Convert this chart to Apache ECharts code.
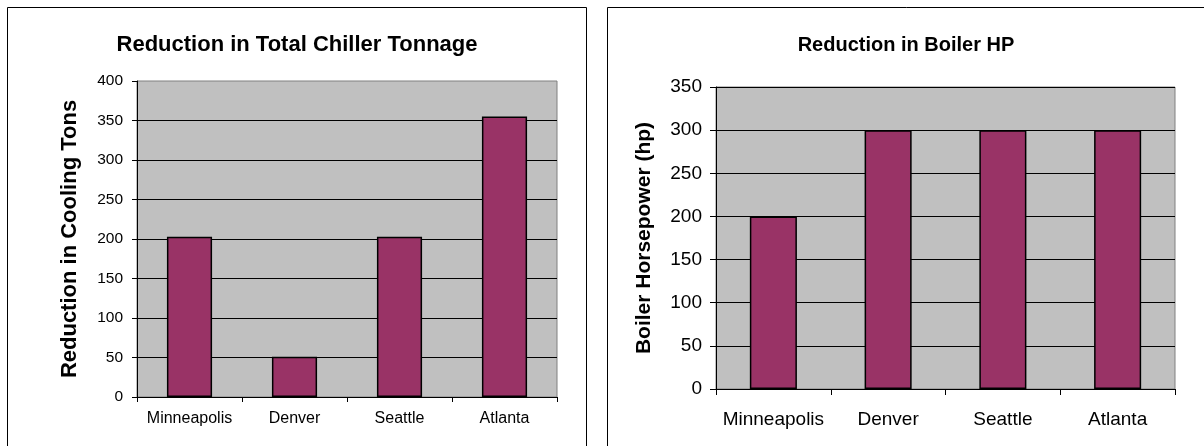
<!DOCTYPE html>
<html>
<head>
<meta charset="utf-8">
<script src="https://cdn.jsdelivr.net/npm/echarts@6/dist/echarts.min.js"></script>
<style>
  html, body { margin: 0; padding: 0; background: #ffffff; }
  #chart { width: 1204px; height: 446px; }
</style>
</head>
<body>
<div id="chart"></div>
<script>
// ---- Data ----
const categories = ['Minneapolis', 'Denver', 'Seattle', 'Atlanta'];
const chillerTons = [203, 51, 203, 355];
const boilerHP = [200, 300, 300, 300];

const chillerTitle = 'Reduction in Total Chiller Tonnage';
const chillerAxisName = 'Reduction in Cooling Tons';
const chillerAxis = { min: 0, max: 400, interval: 50 };

const boilerTitle = 'Reduction in Boiler HP';
const boilerAxisName = 'Boiler Horsepower (hp)';
const boilerAxis = { min: 0, max: 350, interval: 50 };

// ---- Chart ----
const FONT = '"Liberation Sans", Arial, sans-serif';
const chart = echarts.init(document.getElementById('chart'), null, { renderer: 'canvas' });

const option = {
  backgroundColor: '#ffffff',
  animation: false,
  title: [
    {
      text: chillerTitle, left: 297, top: 34, textAlign: 'center', padding: 0,
      textStyle: { fontFamily: FONT, fontSize: 22, fontWeight: 'bold', color: '#000' }
    },
    {
      text: boilerTitle, left: 906, top: 35, textAlign: 'center', padding: 0,
      textStyle: { fontFamily: FONT, fontSize: 20, fontWeight: 'bold', color: '#000' }
    }
  ],
  graphic: [
    { type: 'rect', z: -10, shape: { x: 7.5, y: 7.5, width: 579, height: 470 },
      style: { fill: '#ffffff', stroke: '#000000', lineWidth: 1 } },
    { type: 'rect', z: -10, shape: { x: 607.5, y: 7.5, width: 620, height: 470 },
      style: { fill: '#ffffff', stroke: '#000000', lineWidth: 1 } }
  ],
  grid: [
    { left: 137, top: 81, width: 420, height: 316, show: true,
      backgroundColor: '#C0C0C0', borderColor: '#808080', borderWidth: 1 },
    { left: 716, top: 87, width: 459, height: 302, show: true,
      backgroundColor: '#C0C0C0', borderColor: '#808080', borderWidth: 1 }
  ],
  xAxis: [
    {
      type: 'category', gridIndex: 0, data: categories,
      axisLine: { show: true, lineStyle: { color: '#000', width: 1 } },
      axisTick: { show: true, length: 5, lineStyle: { color: '#000' } },
      axisLabel: { interval: 0, hideOverlap: false, margin: 14, fontFamily: FONT, fontSize: 16, color: '#000' }
    },
    {
      type: 'category', gridIndex: 1, data: categories,
      axisLine: { show: true, lineStyle: { color: '#000', width: 1 } },
      axisTick: { show: true, length: 6, lineStyle: { color: '#000' } },
      axisLabel: { interval: 0, hideOverlap: false, margin: 21, fontFamily: FONT, fontSize: 19, color: '#000' }
    }
  ],
  yAxis: [
    {
      type: 'value', gridIndex: 0,
      min: chillerAxis.min, max: chillerAxis.max, interval: chillerAxis.interval,
      name: chillerAxisName, nameLocation: 'middle', nameGap: 56, nameRotate: 90,
      nameTextStyle: { fontFamily: FONT, fontSize: 22, fontWeight: 'bold', color: '#000' },
      axisLine: { show: true, lineStyle: { color: '#000', width: 1 } },
      axisTick: { show: true, length: 5, lineStyle: { color: '#000' } },
      axisLabel: { margin: 14, fontFamily: FONT, fontSize: 15.5, color: '#000' },
      splitLine: { show: true, showMaxLine: false, lineStyle: { color: '#000', width: 1 } }
    },
    {
      type: 'value', gridIndex: 1,
      min: boilerAxis.min, max: boilerAxis.max, interval: boilerAxis.interval,
      name: boilerAxisName, nameLocation: 'middle', nameGap: 61, nameRotate: 90,
      nameTextStyle: { fontFamily: FONT, fontSize: 21, fontWeight: 'bold', color: '#000' },
      axisLine: { show: true, lineStyle: { color: '#000', width: 1 } },
      axisTick: { show: true, length: 6, lineStyle: { color: '#000' } },
      axisLabel: { margin: 14, fontFamily: FONT, fontSize: 19, color: '#000' },
      splitLine: { show: true, lineStyle: { color: '#000', width: 1 } }
    }
  ],
  series: [
    {
      type: 'bar', xAxisIndex: 0, yAxisIndex: 0, data: chillerTons,
      barWidth: '43%',
      itemStyle: { color: '#993366', borderColor: '#000', borderWidth: 1.5 }
    },
    {
      type: 'bar', xAxisIndex: 1, yAxisIndex: 1, data: boilerHP,
      barWidth: '41%',
      itemStyle: { color: '#993366', borderColor: '#000', borderWidth: 1.5 }
    }
  ]
};

chart.setOption(option);
</script>
</body>
</html>
